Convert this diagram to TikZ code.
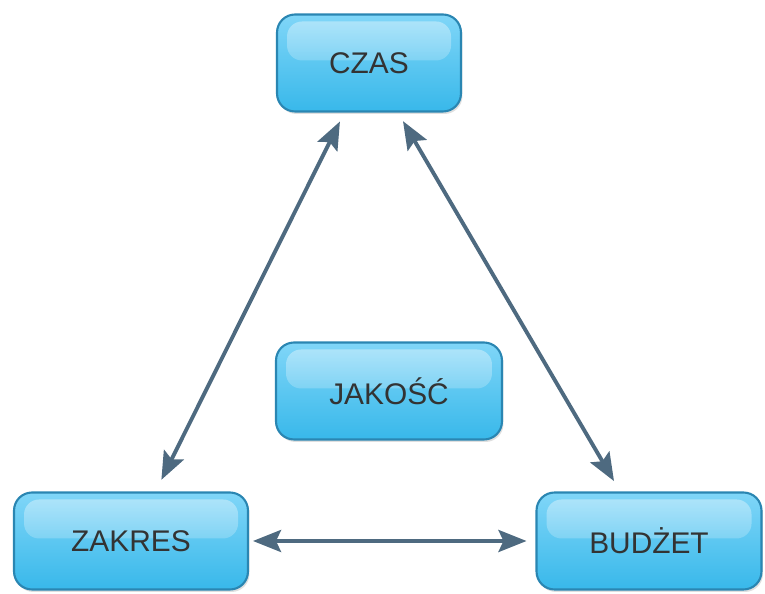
\documentclass[tikz,border=0pt]{standalone}
\usepackage{fontspec}
\setmainfont{Liberation Sans}
\usetikzlibrary{arrows.meta, shadows, fadings}

\definecolor{boxtop}{HTML}{80D6F8}
\definecolor{boxbot}{HTML}{38B8EA}
\definecolor{boxline}{HTML}{2A86B2}
\definecolor{arrowcol}{HTML}{4E6A80}
\definecolor{textcol}{HTML}{333333}

\begin{document}
\begin{tikzpicture}[
  x=0.02cm, y=-0.02cm,
  every node/.style={font=\fontsize{17}{20}\selectfont, text=textcol, align=center},
  gloss/.style={fill=white, fill opacity=0.4, path fading=south, rounded corners=0.3cm},
  block/.style={draw=boxline, line width=1.2pt, rounded corners=0.36cm,
    top color=boxtop, bottom color=boxbot, minimum height=1.94cm,
    drop shadow={shadow xshift=0.03cm, shadow yshift=-0.05cm, opacity=0.25},
    path picture={\fill[gloss] ([xshift=0.2cm, yshift=-0.14cm]path picture bounding box.north west)
      rectangle ([xshift=-0.2cm, yshift=0.05cm]path picture bounding box.east);}},
  link/.style={{Stealth[length=0.56cm, width=0.44cm, inset=0.1cm]}-{Stealth[length=0.56cm, width=0.44cm, inset=0.1cm]},
    draw=arrowcol, line width=2.2pt}
]
\useasboundingbox (0,0) rectangle (765,594);

% Blocks
\node[block, minimum width=3.68cm] (czas) at (369,63) {CZAS};
\node[block, minimum width=4.52cm] (jakosc) at (389,391) {JAKOŚĆ};
\node[block, minimum width=4.68cm] (zakres) at (131,541) {ZAKRES};
\node[block, minimum width=4.5cm] (budzet) at (649,541) {BUDŻET};

% Links
\draw[link, shorten <=0.2cm, shorten >=0.26cm] (czas) -- (zakres);
\draw[link, shorten <=0.2cm, shorten >=0.24cm] (czas) -- (budzet);
\draw[link, shorten <=0.08cm, shorten >=0.18cm] (zakres) -- (budzet);
\end{tikzpicture}
\end{document}
